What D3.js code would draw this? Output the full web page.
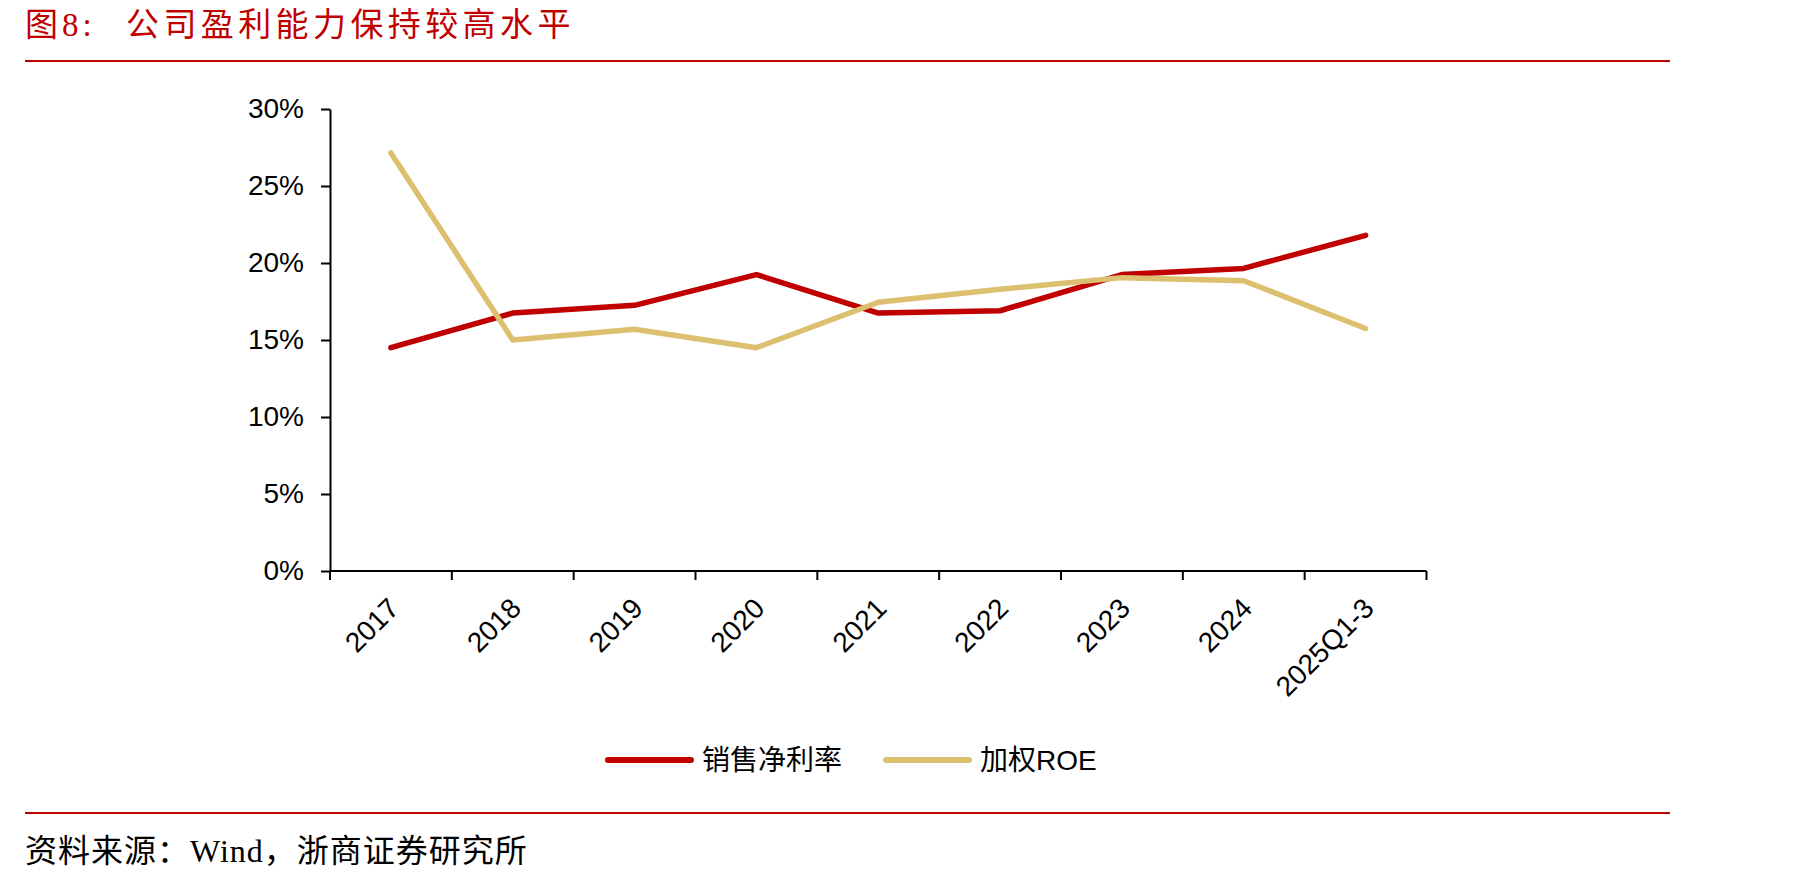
<!DOCTYPE html>
<html>
<head>
<meta charset="utf-8">
<script src="https://cdn.jsdelivr.net/npm/d3@7"></script>
<style>
  body { margin: 0; background: #fff; }
  svg { display: block; }
</style>
</head>
<body>
<div id="chart"></div>
<script>
// chart data
const categories = ["2017", "2018", "2019", "2020", "2021", "2022", "2023", "2024", "2025Q1-3"];
const netMargin  = [14.5, 16.75, 17.25, 19.25, 16.75, 16.9, 19.25, 19.65, 21.8];
const weightedRoe = [27.15, 15.0, 15.7, 14.5, 17.45, 18.3, 19.05, 18.85, 15.75];
const yTicks = [0, 5, 10, 15, 20, 25, 30];
const seriesNames = ["销售净利率", "加权ROE"];

const W = 1798, H = 881;
const red = "#C00000", gold = "#DCC070";
const cjkSerif = "'Liberation Serif', 'Noto Sans CJK SC', serif";
const sans = "'Liberation Sans', Arial, 'Noto Sans CJK SC', sans-serif";

const svg = d3.select("#chart").append("svg")
    .attr("width", W)
    .attr("height", H);

/*  title + rules  */
svg.append("text")
    .attr("x", 25).attr("y", 25)
    .attr("dominant-baseline", "central")
    .attr("fill", red)
    .style("font-family", cjkSerif)
    .style("font-size", "33px")
    .style("letter-spacing", "4px")
    .text("图8:");
svg.append("text")
    .attr("x", 126).attr("y", 25)
    .attr("dominant-baseline", "central")
    .attr("fill", red)
    .style("font-family", cjkSerif)
    .style("font-size", "33px")
    .style("letter-spacing", "4.4px")
    .text("公司盈利能力保持较高水平");

svg.append("line")
    .attr("x1", 25).attr("x2", 1670).attr("y1", 61).attr("y2", 61)
    .attr("stroke", red).attr("stroke-width", 2);
svg.append("line")
    .attr("x1", 25).attr("x2", 1670).attr("y1", 813).attr("y2", 813)
    .attr("stroke", red).attr("stroke-width", 2);

svg.append("text")
    .attr("x", 25).attr("y", 851)
    .attr("dominant-baseline", "central")
    .attr("fill", "#000")
    .style("font-family", cjkSerif)
    .style("font-size", "32px")
    .style("letter-spacing", "1px")
    .text("资料来源：Wind，浙商证券研究所");

/*  scales  */
const plotLeft = 330, plotRight = 1426.5, plotTop = 109, plotBottom = 571;

const xScale = d3.scaleBand()
    .domain(categories)
    .range([plotLeft, plotRight])
    .padding(0);

const yScale = d3.scaleLinear()
    .domain([0, 30])
    .range([plotBottom, plotTop]);

const cx = d => xScale(d) + xScale.bandwidth() / 2;

/*  y axis  */
const yAxis = svg.append("g")
    .attr("transform", "translate(" + plotLeft + ",0)")
    .call(d3.axisLeft(yScale)
        .tickValues(yTicks)
        .tickSize(9)
        .tickSizeOuter(0)
        .tickPadding(17)
        .tickFormat(d => d + "%"));
yAxis.select(".domain").attr("stroke", "#000").attr("stroke-width", 2);
yAxis.selectAll(".tick line").attr("stroke", "#000").attr("stroke-width", 2);
yAxis.selectAll("text")
    .attr("fill", "#000")
    .style("font-family", sans)
    .style("font-size", "28px");

/*  x axis: ticks on category boundaries  */
const xAxis = svg.append("g");
xAxis.append("line")
    .attr("x1", plotLeft).attr("x2", plotRight)
    .attr("y1", plotBottom).attr("y2", plotBottom)
    .attr("stroke", "#000").attr("stroke-width", 2);
xAxis.selectAll(".xtick")
    .data(categories.map(d => xScale(d)).concat([plotRight]))
    .enter().append("line")
    .attr("class", "xtick")
    .attr("x1", d => d).attr("x2", d => d)
    .attr("y1", plotBottom).attr("y2", plotBottom + 9)
    .attr("stroke", "#000").attr("stroke-width", 2);
xAxis.selectAll(".xlabel")
    .data(categories)
    .enter().append("text")
    .attr("class", "xlabel")
    .attr("transform", d => "translate(" + (cx(d) + 3) + "," + (plotBottom + 32) + ") rotate(-45)")
    .attr("text-anchor", "end")
    .attr("dy", "0.35em")
    .attr("fill", "#000")
    .style("font-family", sans)
    .style("font-size", "28px")
    .text(d => d);

/*  lines  */
const line = d3.line()
    .x((d, i) => cx(categories[i]))
    .y(d => yScale(d));

svg.append("path")
    .datum(netMargin)
    .attr("d", line)
    .attr("fill", "none")
    .attr("stroke", red)
    .attr("stroke-width", 5.5)
    .attr("stroke-linecap", "round")
    .attr("stroke-linejoin", "round");

svg.append("path")
    .datum(weightedRoe)
    .attr("d", line)
    .attr("fill", "none")
    .attr("stroke", gold)
    .attr("stroke-width", 5.5)
    .attr("stroke-linecap", "round")
    .attr("stroke-linejoin", "round");

/*  legend  */
const legendItems = [
    {name: seriesNames[0], color: red, x: 608},
    {name: seriesNames[1], color: gold, x: 886}
];
const legend = svg.selectAll(".legend")
    .data(legendItems)
    .enter().append("g")
    .attr("class", "legend")
    .attr("transform", d => "translate(" + d.x + ",760)");
legend.append("line")
    .attr("x1", 0).attr("x2", 83)
    .attr("stroke", d => d.color)
    .attr("stroke-width", 6)
    .attr("stroke-linecap", "round");
legend.append("text")
    .attr("x", 94)
    .attr("dominant-baseline", "central")
    .attr("fill", "#000")
    .style("font-family", sans)
    .style("font-size", "28px")
    .text(d => d.name);
</script>
</body>
</html>
